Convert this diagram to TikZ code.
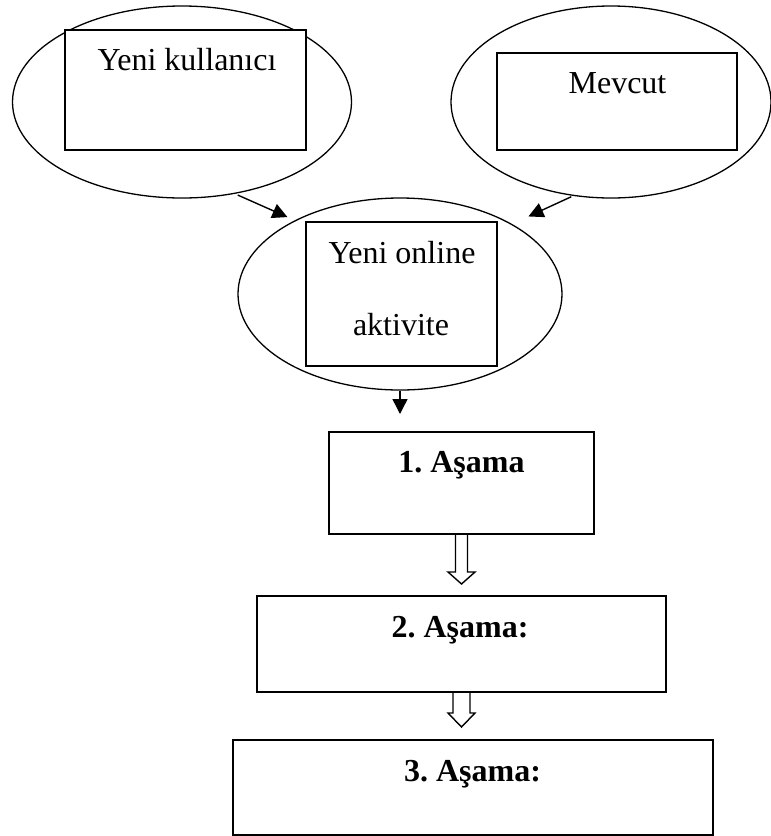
\documentclass[tikz,border=0pt]{standalone}
\usepackage{fontspec}
\setmainfont{Liberation Serif}
\usepackage{tikz}
\usetikzlibrary{arrows.meta,calc}
\usetikzlibrary{shapes.geometric}
\frenchspacing

\begin{document}
\begin{tikzpicture}[x=0.5pt, y=-0.5pt, >={Triangle[length=7.5pt,width=7.5pt]}]
		\tikzstyle{oval}=[ellipse, draw, line width=0.65pt, inner sep=0pt]
		\tikzstyle{box}=[rectangle, draw, fill=white, line width=1pt, inner sep=0pt]
		\tikzstyle{txt}=[anchor=base, inner sep=0pt, font=\fontsize{16}{19}\selectfont]
		\tikzstyle{btxt}=[txt, font=\fontsize{16}{19}\selectfont\bfseries]
		
		\useasboundingbox (0,0) rectangle (771,836);
		
		\node[oval, minimum width=169.5pt, minimum height=96pt] (e1) at (182,102) {};
		\node[oval, minimum width=160pt, minimum height=96pt]   (e2) at (611,102) {};
		\node[oval, minimum width=162pt, minimum height=96pt]   (e3) at (400,294) {};
		
		\node[box, minimum width=120.5pt, minimum height=60pt]  (b1) at (185.5,90)  {};
		\node[box, minimum width=120pt, minimum height=48.5pt]  (b2) at (617,101.5) {};
		\node[box, minimum width=95.5pt, minimum height=72pt]   (b3) at (401.5,294) {};
		
		\node[box, minimum width=132.5pt, minimum height=51pt]  (s1) at (461.5,483) {};
		\node[box, minimum width=204.5pt, minimum height=48pt]  (s2) at (461.5,644) {};
		\node[box, minimum width=240pt, minimum height=47.5pt]  (s3) at (473,787.5) {};
		
		\node[txt]  (t1) at (187,70)    {Yeni kullanıcı};
		\node[txt]  (t2) at (617.5,93)  {Mevcut};
		\node[txt]  (t3) at (402,263)   {Yeni online};
		\node[txt]  (t4) at (401,335)   {aktivite};
		\node[btxt] (u1) at (461.5,472) {1. Aşama};
		\node[btxt] (u2) at (460,637)   {2. Aşama:};
		\node[btxt] (u3) at (472.5,781) {3. Aşama:};
		
		\path[->, line width=0.7pt]
		(e1.-60) edge [shorten <=1.5pt, shorten >=4pt] (e3.145)
		(e2.248) edge [shorten <=1pt, shorten >=9pt]   (e3.32)
		(e3.south) edge [shorten >=8.5pt] (e3.south |- s1.north)
		;
		
		\foreach \n/\w/\l/\h in {s1/6/37/12, s2/8.5/20/14}
			\draw[line width=0.7pt] ($(\n.south)+(-\w,0)$) -- ++(0,\l) -- ++({\w-13.5},0) -- ++(13.5,\h) -- ++(13.5,-\h) -- ++({\w-13.5},0) -- ++(0,-\l);
		\end{tikzpicture}
\end{document}
